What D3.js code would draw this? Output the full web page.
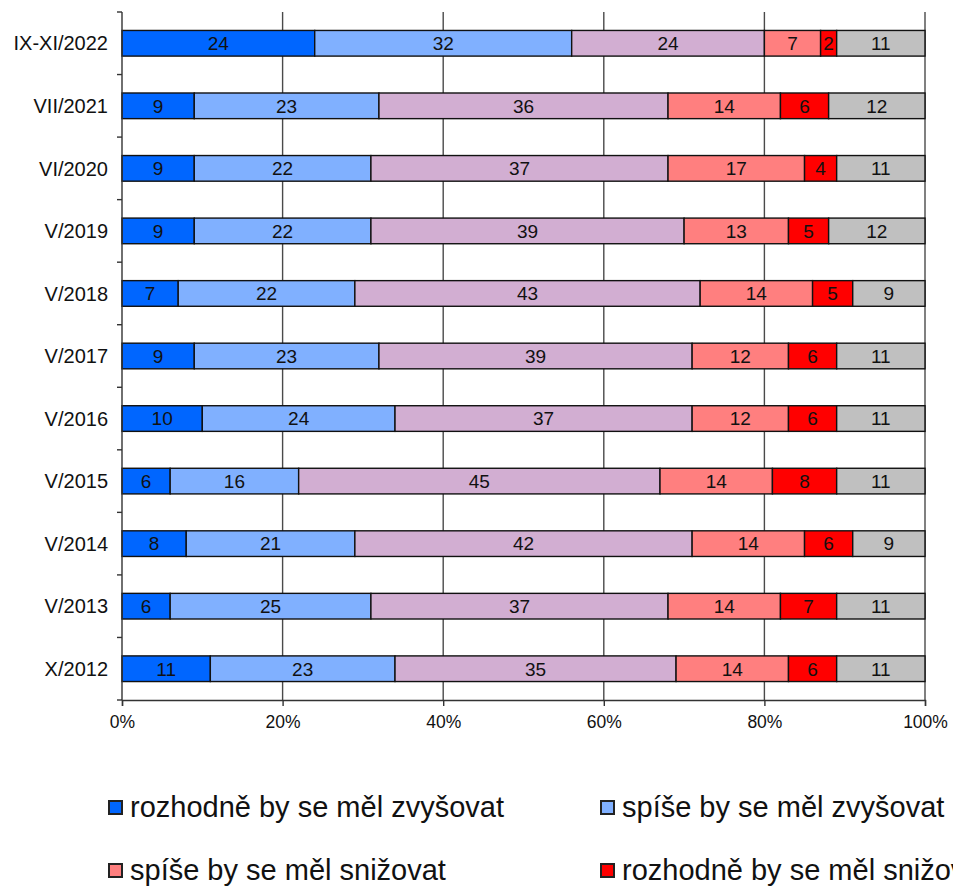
<!DOCTYPE html>
<html>
<head>
<meta charset="utf-8">
<script src="https://cdn.jsdelivr.net/npm/d3@7"></script>
<style>
  body { margin: 0; background: #fff; overflow: hidden; }
  text { font-family: "Liberation Sans", Arial, sans-serif; }
</style>
</head>
<body>
<div id="chart"></div>
<script>
// categories top to bottom
const periods = ["IX-XI/2022", "VII/2021", "VI/2020", "V/2019", "V/2018", "V/2017",
                 "V/2016", "V/2015", "V/2014", "V/2013", "X/2012"];

const seriesNames = ["rozhodně by se měl zvyšovat", "spíše by se měl zvyšovat",
                     "měl by zůstat na stejné úrovni", "spíše by se měl snižovat",
                     "rozhodně by se měl snižovat", "neví"];
const seriesColors = ["#0066ff", "#80b0ff", "#d2aed2", "#ff7f7f", "#ff0000", "#c0c0c0"];

const definitelyUp = [24, 9, 9, 9, 7, 9, 10, 6, 8, 6, 11];
const ratherUp     = [32, 23, 22, 22, 22, 23, 24, 16, 21, 25, 23];
const keepSame     = [24, 36, 37, 39, 43, 39, 37, 45, 42, 37, 35];
const ratherDown   = [7, 14, 17, 13, 14, 12, 12, 14, 14, 14, 14];
const definitelyDn = [2, 6, 4, 5, 5, 6, 6, 8, 6, 7, 6];
const dontKnow     = [11, 12, 11, 12, 9, 11, 11, 11, 9, 11, 11];

const xTicks = [0, 20, 40, 60, 80, 100];

const width = 953, height = 891;
const margin = {top: 12, right: 28, bottom: 191, left: 122};
const innerW = width - margin.left - margin.right;
const innerH = height - margin.top - margin.bottom;

const rows = periods.map((p, i) => ({
  period: p,
  v: [definitelyUp[i], ratherUp[i], keepSame[i], ratherDown[i], definitelyDn[i], dontKnow[i]]
}));

const svg = d3.select("#chart").append("svg")
  .attr("width", width).attr("height", height);

const g = svg.append("g")
  .attr("transform", "translate(" + margin.left + "," + margin.top + ")");

const x = d3.scaleLinear().domain([0, 100]).range([0, innerW]);
const y = d3.scaleBand().domain(periods).range([0, innerH]).paddingInner(0.59).paddingOuter(0.295);
const band = innerH / periods.length;

// vertical gridlines
g.append("g").selectAll("line")
  .data(xTicks.slice(1))
  .enter().append("line")
    .attr("x1", d => x(d)).attr("x2", d => x(d))
    .attr("y1", 0).attr("y2", innerH)
    .attr("stroke", "#4a4a4a").attr("stroke-width", 1.4);

// bars
const stackData = rows.map(r => {
  let acc = 0;
  return r.v.map((val, k) => {
    const seg = {period: r.period, k: k, val: val, x0: acc, x1: acc + val};
    acc += val;
    return seg;
  });
}).flat();

g.append("g").selectAll("rect")
  .data(stackData)
  .enter().append("rect")
    .attr("x", d => x(d.x0))
    .attr("y", d => y(d.period))
    .attr("width", d => x(d.x1) - x(d.x0))
    .attr("height", y.bandwidth())
    .attr("fill", d => seriesColors[d.k])
    .attr("stroke", "#111")
    .attr("stroke-width", 1.4);

g.append("g").selectAll("text")
  .data(stackData)
  .enter().append("text")
    .attr("x", d => x((d.x0 + d.x1) / 2))
    .attr("y", d => y(d.period) + y.bandwidth() / 2)
    .attr("dy", "0.36em")
    .attr("text-anchor", "middle")
    .style("font-size", "19px")
    .attr("fill", "#111")
    .text(d => d.val);

// y axis
g.append("line")
  .attr("x1", 0).attr("x2", 0).attr("y1", 0).attr("y2", innerH)
  .attr("stroke", "#333").attr("stroke-width", 1.4);
g.append("g").selectAll("line")
  .data(d3.range(0, periods.length + 1))
  .enter().append("line")
    .attr("x1", -5).attr("x2", 0)
    .attr("y1", d => d * band).attr("y2", d => d * band)
    .attr("stroke", "#333").attr("stroke-width", 1.4);
g.append("g").selectAll("text")
  .data(periods)
  .enter().append("text")
    .attr("x", -14)
    .attr("y", d => y(d) + y.bandwidth() / 2)
    .attr("dy", "0.36em")
    .attr("text-anchor", "end")
    .style("font-size", "20px")
    .attr("fill", "#111")
    .text(d => d);

// x axis
const xAxis = g.append("g")
  .attr("transform", "translate(0," + innerH + ")")
  .call(d3.axisBottom(x).tickValues(xTicks).tickSize(6).tickFormat(d => d + "%"));
xAxis.select(".domain").attr("stroke", "#333").attr("stroke-width", 1.4);
xAxis.selectAll(".tick line").attr("stroke", "#333").attr("stroke-width", 1.4);
xAxis.selectAll(".tick text")
  .attr("y", 16)
  .style("font-size", "17.5px")
  .style("font-family", "'Liberation Sans', Arial, sans-serif")
  .attr("fill", "#111");

// legend, 3 columns, third column falls outside the picture
const legendCols = [108, 600, 1090];
const legendRows = [807, 870];
const legend = svg.append("g").selectAll("g")
  .data(seriesNames)
  .enter().append("g")
    .attr("transform", (d, i) => "translate(" + legendCols[i % 3] + "," + legendRows[Math.floor(i / 3)] + ")");
legend.append("rect")
  .attr("x", 1).attr("y", -6).attr("width", 13).attr("height", 13)
  .attr("fill", (d, i) => seriesColors[i])
  .attr("stroke", "#222").attr("stroke-width", 2);
legend.append("text")
  .attr("x", 22).attr("y", 0).attr("dy", "0.36em")
  .style("font-size", "29px")
  .attr("fill", "#111")
  .text(d => d);
</script>
</body>
</html>
